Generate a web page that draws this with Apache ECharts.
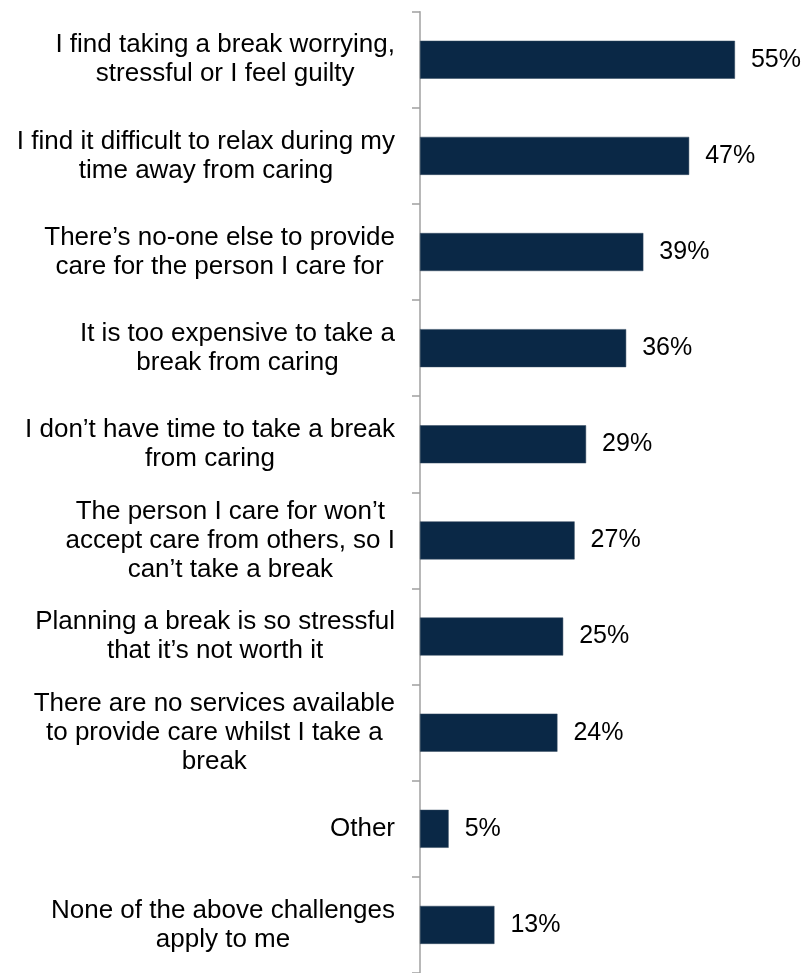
<!DOCTYPE html>
<html>
<head>
<meta charset="utf-8">
<script src="https://cdn.jsdelivr.net/npm/echarts@6/dist/echarts.min.js"></script>
<style>
html,body{margin:0;padding:0;background:#fff;}
#chart{width:807px;height:973px;}
</style>
</head>
<body>
<div id="chart"></div>
<script>
const categories = [
  "I find taking a break worrying,\nstressful or I feel guilty",
  "I find it difficult to relax during my\ntime away from caring",
  "There\u2019s no-one else to provide\ncare for the person I care for",
  "It is too expensive to take a\nbreak from caring",
  "I don\u2019t have time to take a break\nfrom caring",
  "The person I care for won\u2019t\naccept care from others, so I\ncan\u2019t take a break",
  "Planning a break is so stressful\nthat it\u2019s not worth it",
  "There are no services available\nto provide care whilst I take a\nbreak",
  "Other",
  "None of the above challenges\napply to me"
];
const values = [55, 47, 39, 36, 29, 27, 25, 24, 5, 13];

const chart = echarts.init(document.getElementById('chart'), null, {renderer: 'canvas'});
chart.setOption({
  animation: false,
  backgroundColor: '#ffffff',
  textStyle: {fontFamily: 'Liberation Sans, Arial, sans-serif'},
  grid: {left: 420, right: 43.4, top: 11.7, bottom: -4.3, containLabel: false},
  xAxis: {
    type: 'value', min: 0, max: 60, show: false
  },
  yAxis: {
    type: 'category',
    data: categories,
    inverse: true,
    axisLine: {show: true, lineStyle: {color: '#a0a0a0', width: 1.5}},
    axisTick: {show: true, length: 8, lineStyle: {color: '#a0a0a0', width: 1.5}},
    splitLine: {show: false},
    axisLabel: {
      margin: 25,
      align: 'right',
      color: '#000',
      fontFamily: 'Liberation Sans, Arial, sans-serif',
      fontSize: 26,
      lineHeight: 29,
      formatter: function (v) {
        return v.split('\n').map(function (l) { return '{c|' + l + '}'; }).join('\n');
      },
      rich: {
        c: {align: 'center', fontSize: 26, lineHeight: 29, color: '#000', fontFamily: 'Liberation Sans, Arial, sans-serif'}
      }
    }
  },
  series: [{
    type: 'bar',
    data: values,
    barWidth: 38,
    itemStyle: {color: '#0a2846', borderColor: '#33495f', borderWidth: 0.5},
    label: {
      show: true,
      position: 'right',
      distance: 16,
      formatter: '{c}%',
      color: '#000',
      fontSize: 25,
      fontFamily: 'Liberation Sans, Arial, sans-serif'
    }
  }]
});
</script>
</body>
</html>
